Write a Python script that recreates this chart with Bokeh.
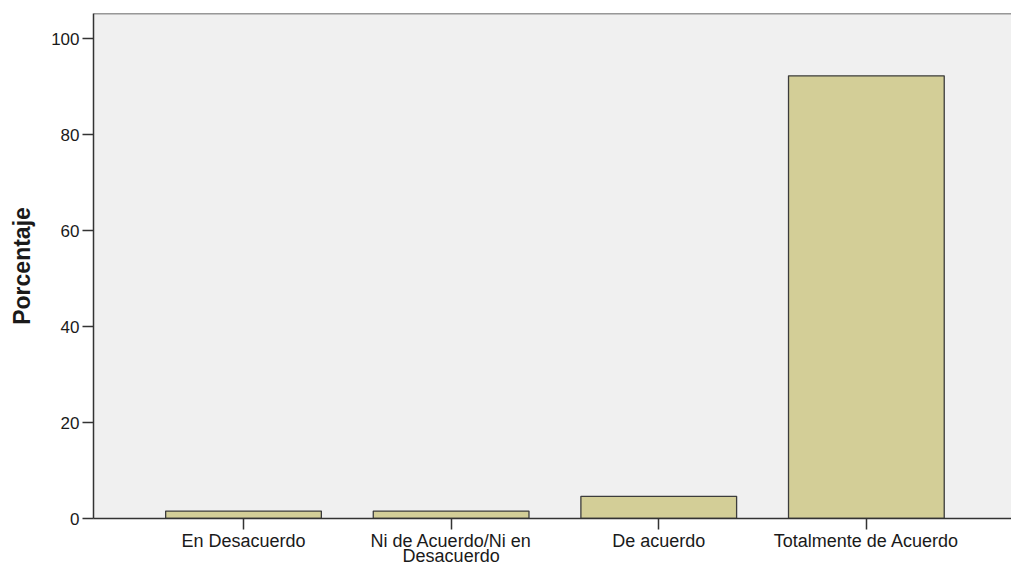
from bokeh.plotting import figure
from bokeh.models import Range1d, FixedTicker, Span, ColumnDataSource, LinearAxis
from bokeh.embed import file_html
from bokeh.resources import INLINE

categories = ["En Desacuerdo", "Ni de Acuerdo/Ni en\nDesacuerdo", "De acuerdo", "Totalmente de Acuerdo"]
percentages = [1.54, 1.54, 4.62, 92.31]
y_ticks = [0, 20, 40, 60, 80, 100]

positions = list(range(1, len(categories) + 1))
source = ColumnDataSource(dict(x=positions, top=percentages))

p = figure(width=1011, height=568, output_backend="svg", toolbar_location=None,
           x_range=Range1d(0.2775, 4.699), y_range=Range1d(0, 105.3),
           min_border_left=93, min_border_right=0, min_border_top=13, min_border_bottom=49)
p.background_fill_color = "#F0F0F0"
p.border_fill_color = "white"
p.outline_line_color = None
p.grid.visible = False

p.vbar(x="x", top="top", width=0.75, bottom=0, source=source,
       fill_color="#D3CE97", line_color="#3C3C3C", line_width=1.3)

p.add_layout(Span(location=105.3, dimension="width", line_color="#3A3A3A", line_width=1.5))

font = "Liberation Sans"
text_color = "#1A1A1A"
split = [cat.split("\n") for cat in categories]

p.xaxis.ticker = FixedTicker(ticks=positions)
p.xaxis.major_label_overrides = {pos: lines[0] for pos, lines in zip(positions, split)}
p.yaxis.ticker = FixedTicker(ticks=y_ticks)

for ax in (p.xaxis, p.yaxis):
    ax.axis_line_color = "#333333"
    ax.axis_line_width = 1.5
    ax.major_tick_line_color = "#333333"
    ax.major_tick_line_width = 1.5
    ax.major_tick_out = 11
    ax.major_tick_in = 0
    ax.minor_tick_line_color = None
    ax.major_label_text_font = font
    ax.major_label_text_color = text_color

p.xaxis.major_label_text_font_size = "18px"
p.yaxis.major_label_text_font_size = "17px"
p.xaxis.major_label_standoff = 1
p.yaxis.major_label_standoff = 3
p.yaxis.axis_label = "Porcentaje"
p.yaxis.axis_label_text_font = font
p.yaxis.axis_label_text_font_style = "bold"
p.yaxis.axis_label_text_font_size = "23px"
p.yaxis.axis_label_text_color = text_color
p.yaxis.axis_label_standoff = 13

# second line of the wrapped category labels
second_pos = [pos for pos, lines in zip(positions, split) if len(lines) > 1]
axis2 = LinearAxis(ticker=FixedTicker(ticks=second_pos),
                   major_label_overrides={pos: lines[1] for pos, lines in zip(positions, split) if len(lines) > 1},
                   axis_line_color=None, major_tick_line_color=None, minor_tick_line_color=None,
                   major_tick_out=0, major_tick_in=0, major_label_standoff=-8,
                   major_label_text_font=font, major_label_text_font_size="18px",
                   major_label_text_color=text_color)
p.add_layout(axis2, "below")

open("out.html", "w").write(file_html(p, INLINE))
